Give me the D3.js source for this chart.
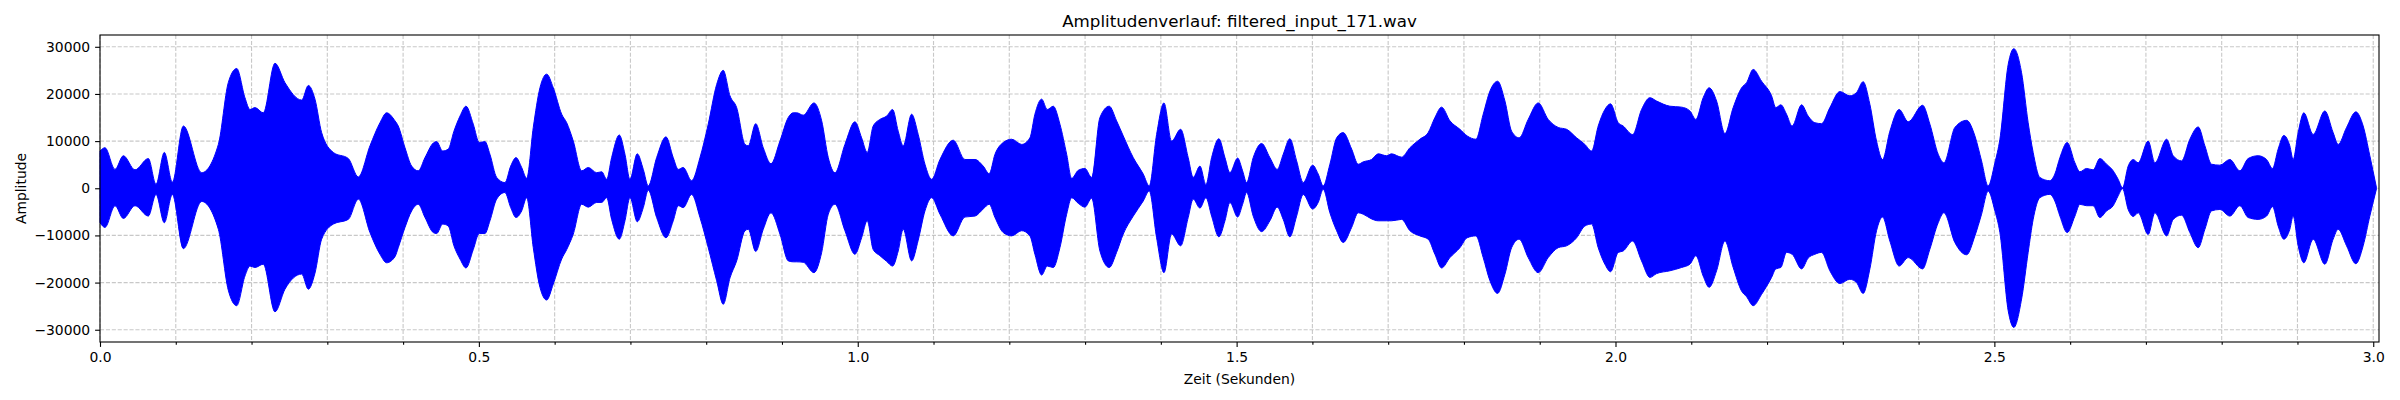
<!DOCTYPE html>
<html>
<head>
<meta charset="utf-8">
<script src="https://cdn.jsdelivr.net/npm/d3@7"></script>
<style>
  body { margin: 0; background: #fff; }
  svg text { font-family: "DejaVu Sans", sans-serif; fill: #000; }
</style>
</head>
<body>
<svg class="chart"></svg>
<script>
// envelope of the waveform (seconds / amplitude)
var times = [
  0.0000, 0.0066, 0.0198, 0.0308, 0.0462, 0.0638, 0.0739, 0.0849, 0.0955, 0.1100,
  0.1342, 0.1562, 0.1693, 0.1804, 0.1913, 0.1979, 0.2045, 0.2155, 0.2309, 0.2441,
  0.2662, 0.2749, 0.2837, 0.2925, 0.3079, 0.3277, 0.3409, 0.3563, 0.3695, 0.3783,
  0.3893, 0.3936, 0.4025, 0.4113, 0.4200, 0.4289, 0.4399, 0.4443, 0.4522, 0.4596,
  0.4671, 0.4751, 0.4830, 0.4926, 0.5005, 0.5080, 0.5146, 0.5235, 0.5344, 0.5420,
  0.5490, 0.5565, 0.5631, 0.5718, 0.5806, 0.5895, 0.5982, 0.6093, 0.6159, 0.6246,
  0.6357, 0.6444, 0.6555, 0.6621, 0.6687, 0.6752, 0.6853, 0.6928, 0.6994, 0.7090,
  0.7170, 0.7235, 0.7346, 0.7469, 0.7565, 0.7631, 0.7697, 0.7808, 0.7918, 0.8027,
  0.8138, 0.8225, 0.8314, 0.8402, 0.8512, 0.8555, 0.8653, 0.8753, 0.8855, 0.8973,
  0.9083, 0.9149, 0.9194, 0.9281, 0.9422, 0.9524, 0.9611, 0.9699, 0.9831, 0.9963,
  1.0051, 1.0125, 1.0204, 1.0293, 1.0381, 1.0460, 1.0534, 1.0600, 1.0711, 1.0798,
  1.0887, 1.0975, 1.1085, 1.1260, 1.1415, 1.1547, 1.1656, 1.1735, 1.1811, 1.1920,
  1.2031, 1.2163, 1.2272, 1.2338, 1.2427, 1.2501, 1.2580, 1.2668, 1.2757, 1.2823,
  1.2910, 1.2998, 1.3087, 1.3196, 1.3319, 1.3416, 1.3504, 1.3636, 1.3768, 1.3847,
  1.3944, 1.4041, 1.4142, 1.4261, 1.4361, 1.4427, 1.4516, 1.4595, 1.4670, 1.4766,
  1.4846, 1.4912, 1.5013, 1.5079, 1.5132, 1.5219, 1.5330, 1.5439, 1.5536, 1.5615,
  1.5703, 1.5792, 1.5879, 1.6003, 1.6077, 1.6143, 1.6231, 1.6320, 1.6407, 1.6518,
  1.6605, 1.6671, 1.6781, 1.6869, 1.6980, 1.7045, 1.7177, 1.7287, 1.7419, 1.7528,
  1.7617, 1.7705, 1.7815, 1.7947, 1.8043, 1.8158, 1.8254, 1.8343, 1.8444, 1.8541,
  1.8629, 1.8729, 1.8848, 1.8980, 1.9112, 1.9244, 1.9355, 1.9487, 1.9596, 1.9685,
  1.9772, 1.9860, 1.9935, 2.0036, 2.0101, 2.0226, 2.0344, 2.0454, 2.0542, 2.0718,
  2.0872, 2.0982, 2.1061, 2.1157, 2.1236, 2.1334, 2.1444, 2.1553, 2.1664, 2.1730,
  2.1817, 2.1928, 2.2060, 2.2116, 2.2182, 2.2257, 2.2331, 2.2456, 2.2543, 2.2631,
  2.2720, 2.2829, 2.2961, 2.3093, 2.3181, 2.3268, 2.3357, 2.3445, 2.3524, 2.3621,
  2.3744, 2.3863, 2.4053, 2.4149, 2.4259, 2.4334, 2.4479, 2.4634, 2.4743, 2.4831,
  2.4918, 2.5007, 2.5073, 2.5183, 2.5257, 2.5359, 2.5446, 2.5512, 2.5600, 2.5732,
  2.5798, 2.5865, 2.5961, 2.6063, 2.6129, 2.6217, 2.6304, 2.6392, 2.6481, 2.6568,
  2.6634, 2.6692, 2.6766, 2.6832, 2.6898, 2.7030, 2.7119, 2.7273, 2.7360, 2.7471,
  2.7580, 2.7690, 2.7778, 2.7866, 2.7976, 2.8108, 2.8240, 2.8349, 2.8481, 2.8592,
  2.8671, 2.8745, 2.8820, 2.8899, 2.8943, 2.9009, 2.9084, 2.9207, 2.9361, 2.9471,
  2.9537, 2.9648, 2.9770, 2.9867, 2.9955, 3.0043
];

var upper = [
  7900, 8600, 4000, 6900, 3900, 6300, 850, 7600, 1300, 13200,
  3300, 9300, 22400, 25400, 19200, 16700, 17100, 16000, 26500, 22400,
  18700, 21800, 18900, 11800, 7600, 6300, 2400, 9000, 13900, 16000,
  14300, 13200, 8600, 4700, 3700, 6500, 9600, 9900, 7900, 8300,
  12100, 15300, 17400, 13600, 9700, 9900, 7200, 2300, 1200, 4700,
  6500, 4400, 2100, 12900, 21300, 24200, 21300, 15700, 13900, 10000,
  3700, 4400, 3300, 3500, 1900, 6500, 11300, 7200, 1900, 7300,
  4000, 500, 6500, 10900, 6500, 4000, 4400, 1600, 6500, 13600,
  22000, 25000, 19600, 17100, 9300, 9000, 13700, 8600, 5200, 10000,
  15000, 16000, 16000, 15500, 18100, 14300, 6500, 3300, 9300, 14100,
  10700, 7600, 13200, 14600, 15300, 16700, 12100, 9000, 15700, 11400,
  5100, 1900, 6100, 10200, 6100, 6100, 4700, 3100, 7200, 9700,
  10400, 9300, 10700, 15700, 18900, 16700, 17400, 13600, 7200, 2100,
  3800, 4200, 2300, 15000, 17400, 14300, 11100, 6500, 3000, 500,
  11400, 18100, 10000, 12500, 6500, 2300, 4700, 800, 6500, 10500,
  6500, 3300, 6400, 3700, 1200, 6500, 9500, 6500, 4000, 7200,
  10500, 5800, 1200, 4900, 3000, 500, 5100, 10700, 11800, 8300,
  5100, 5600, 6100, 7300, 6900, 7300, 6600, 8600, 10400, 11800,
  15000, 17200, 14300, 12500, 11100, 10400, 15700, 20600, 22700, 18500,
  12100, 10700, 14600, 18100, 14600, 12900, 12500, 10700, 9300, 7900,
  13200, 16700, 17900, 13900, 13200, 11400, 16700, 19200, 18500, 17400,
  17200, 16400, 14600, 19200, 21300, 18500, 11600, 17100, 21300, 22400,
  25200, 22700, 19600, 17100, 17700, 15700, 13200, 17700, 15300, 13900,
  13700, 17100, 20500, 19600, 20300, 22600, 17800, 10000, 6100, 12100,
  16700, 14100, 17600, 13600, 7200, 5400, 12900, 14400, 11100, 5800,
  500, 5400, 10400, 26300, 29600, 24500, 13900, 7600, 2300, 1600,
  3000, 6500, 9700, 5400, 3500, 4200, 3900, 6300, 5100, 3700,
  1900, 100, 4700, 6100, 5400, 10000, 5400, 10400, 6900, 5800,
  10400, 13000, 9000, 5100, 4900, 6100, 3700, 6300, 6900, 6100,
  4200, 8300, 11200, 9000, 6100, 11800, 16000, 11400, 16400, 11800,
  9300, 12900, 16200, 13200, 6900, 100
];

var lower = [
  -7300, -8300, -3700, -6400, -3700, -5900, -1300, -7300, -1300, -12800,
  -2800, -8700, -21600, -24900, -18600, -16500, -16800, -16100, -26200, -21400,
  -18200, -21400, -18000, -10800, -7600, -6600, -2300, -9400, -14000, -15800,
  -14500, -12600, -8300, -4800, -3400, -6200, -9400, -9600, -7600, -8000,
  -12200, -15000, -16900, -13000, -9600, -9600, -6900, -2300, -900, -4100,
  -6200, -4800, -2000, -12600, -21000, -23700, -20300, -15000, -13000, -9700,
  -3400, -4000, -3000, -3000, -2000, -6600, -10800, -6900, -2000, -7100,
  -4100, -400, -6200, -10500, -6900, -3700, -4100, -1300, -6200, -12600,
  -19600, -24600, -19000, -15400, -9000, -8700, -13400, -8700, -5200, -9700,
  -15400, -15600, -15600, -15700, -17900, -13600, -5500, -3400, -9000, -14000,
  -10500, -6900, -13000, -14300, -15500, -16500, -13300, -8700, -15400, -11000,
  -4800, -2000, -5500, -10100, -6100, -5900, -4400, -3400, -6200, -9400,
  -10100, -9000, -10100, -14000, -18400, -16500, -16800, -12600, -5500, -2000,
  -3200, -4000, -2100, -13300, -16800, -13600, -9700, -5900, -2700, -600,
  -10500, -17900, -9700, -12200, -6200, -2300, -4200, -2000, -5900, -10300,
  -6900, -3000, -6100, -3400, -900, -5900, -9200, -6900, -4000, -6600,
  -10300, -5900, -1300, -4400, -3000, -200, -5200, -9000, -11500, -8300,
  -5200, -5500, -6500, -6900, -6900, -6900, -6600, -9000, -10100, -10800,
  -14000, -16900, -14700, -12600, -10500, -10100, -14700, -19600, -22300, -18200,
  -12600, -10800, -14700, -17900, -14700, -12600, -12200, -10500, -8000, -7600,
  -12600, -16100, -17700, -13600, -13300, -11200, -15400, -18900, -18100, -17500,
  -16800, -16100, -14300, -18600, -21000, -17500, -11200, -16800, -21800, -23000,
  -24900, -22500, -18900, -17100, -16800, -13600, -14000, -17100, -14800, -14000,
  -13600, -17500, -20200, -19300, -20000, -22300, -17100, -9000, -6100, -11200,
  -16500, -14700, -17100, -12900, -7300, -5200, -11500, -14100, -10100, -5500,
  -600, -4800, -9400, -26000, -29500, -23500, -13600, -6600, -2000, -1300,
  -2700, -5900, -9400, -5900, -3400, -3700, -3700, -6200, -4800, -3700,
  -1600, -100, -4500, -6000, -5200, -9800, -5200, -10100, -6600, -5700,
  -9400, -12600, -8700, -4800, -4500, -5900, -3700, -6200, -6600, -5900,
  -3900, -8000, -10800, -8700, -5900, -12200, -15800, -10800, -16100, -10800,
  -8700, -12200, -16000, -12200, -5900, -100
];

var xMajorTicks = [0.0, 0.5, 1.0, 1.5, 2.0, 2.5, 3.0];
var xMinorTicks = [0.1, 0.2, 0.3, 0.4, 0.6, 0.7, 0.8, 0.9, 1.1, 1.2, 1.3, 1.4,
  1.6, 1.7, 1.8, 1.9, 2.1, 2.2, 2.3, 2.4, 2.6, 2.7, 2.8, 2.9];
var yTicks = [-30000, -20000, -10000, 0, 10000, 20000, 30000];

var width = 2400;
var height = 400;
var margin = { top: 35, right: 21, bottom: 58, left: 100 };
var w = width - margin.left - margin.right;
var h = height - margin.top - margin.bottom;

var svg = d3.select('.chart')
  .attr('width', width)
  .attr('height', height);

var x = d3.scaleLinear().domain([0, 3.0076]).range([0, w]);
var y = d3.scaleLinear().domain([-32600, 32500]).range([h, 0]);

var g = svg.append('g')
  .attr('transform', 'translate(' + margin.left + ',' + margin.top + ')');

// grid, minor and major on x, major on y
var gridStyle = function(sel) {
  sel.attr('stroke', '#b0b0b0')
    .attr('stroke-opacity', 0.7)
    .attr('stroke-width', 1.1)
    .attr('stroke-dasharray', '4.1,1.8');
};

g.selectAll('.vgrid')
  .data(xMajorTicks.concat(xMinorTicks))
  .enter()
  .append('line')
  .attr('x1', function(d) { return x(d); })
  .attr('x2', function(d) { return x(d); })
  .attr('y1', 0)
  .attr('y2', h)
  .call(gridStyle);

g.selectAll('.hgrid')
  .data(yTicks)
  .enter()
  .append('line')
  .attr('x1', 0)
  .attr('x2', w)
  .attr('y1', function(d) { return y(d); })
  .attr('y2', function(d) { return y(d); })
  .call(gridStyle);

var data = times.map(function(t, i) { return { t: t, hi: upper[i], lo: lower[i] }; });

var area = d3.area()
  .x(function(d) { return x(d.t); })
  .y0(function(d) { return y(d.lo); })
  .y1(function(d) { return y(d.hi); })
  .curve(d3.curveMonotoneX);

g.append('path')
  .datum(data)
  .attr('d', area)
  .attr('fill', '#0000ff')
  .attr('stroke', '#0000ff')
  .attr('stroke-width', 1);

// axes
var fmtY = function(d) { return d < 0 ? '\u2212' + Math.abs(d) : String(d); };

var yAxis = g.append('g')
  .call(d3.axisLeft(y).tickValues(yTicks).tickFormat(fmtY).tickSize(4.9).tickPadding(4.9));

var xAxis = g.append('g')
  .attr('transform', 'translate(0,' + h + ')')
  .call(d3.axisBottom(x).tickValues(xMajorTicks).tickFormat(d3.format('.1f')).tickSize(4.9).tickPadding(4.9));

var xMinor = g.append('g')
  .attr('transform', 'translate(0,' + h + ')')
  .call(d3.axisBottom(x).tickValues(xMinorTicks).tickFormat('').tickSize(2.8));

[xAxis, yAxis, xMinor].forEach(function(a) {
  a.select('.domain').remove();
  a.selectAll('line').attr('stroke', '#000').attr('stroke-width', 1.1);
  a.selectAll('text').style('font-family', '"DejaVu Sans", sans-serif').style('font-size', '13.9px').attr('fill', '#000');
});

g.append('rect')
  .attr('width', w)
  .attr('height', h)
  .attr('fill', 'none')
  .attr('stroke', '#000')
  .attr('stroke-width', 1.1);

svg.append('text')
  .attr('x', margin.left + w / 2)
  .attr('y', 26.5)
  .attr('text-anchor', 'middle')
  .style('font-size', '16.7px')
  .text('Amplitudenverlauf: filtered_input_171.wav');

svg.append('text')
  .attr('x', margin.left + w / 2)
  .attr('y', 383.5)
  .attr('text-anchor', 'middle')
  .style('font-size', '13.9px')
  .text('Zeit (Sekunden)');

svg.append('text')
  .attr('transform', 'translate(25.5,' + (margin.top + h / 2) + ') rotate(-90)')
  .attr('text-anchor', 'middle')
  .style('font-size', '13.9px')
  .text('Amplitude');
</script>
</body>
</html>
